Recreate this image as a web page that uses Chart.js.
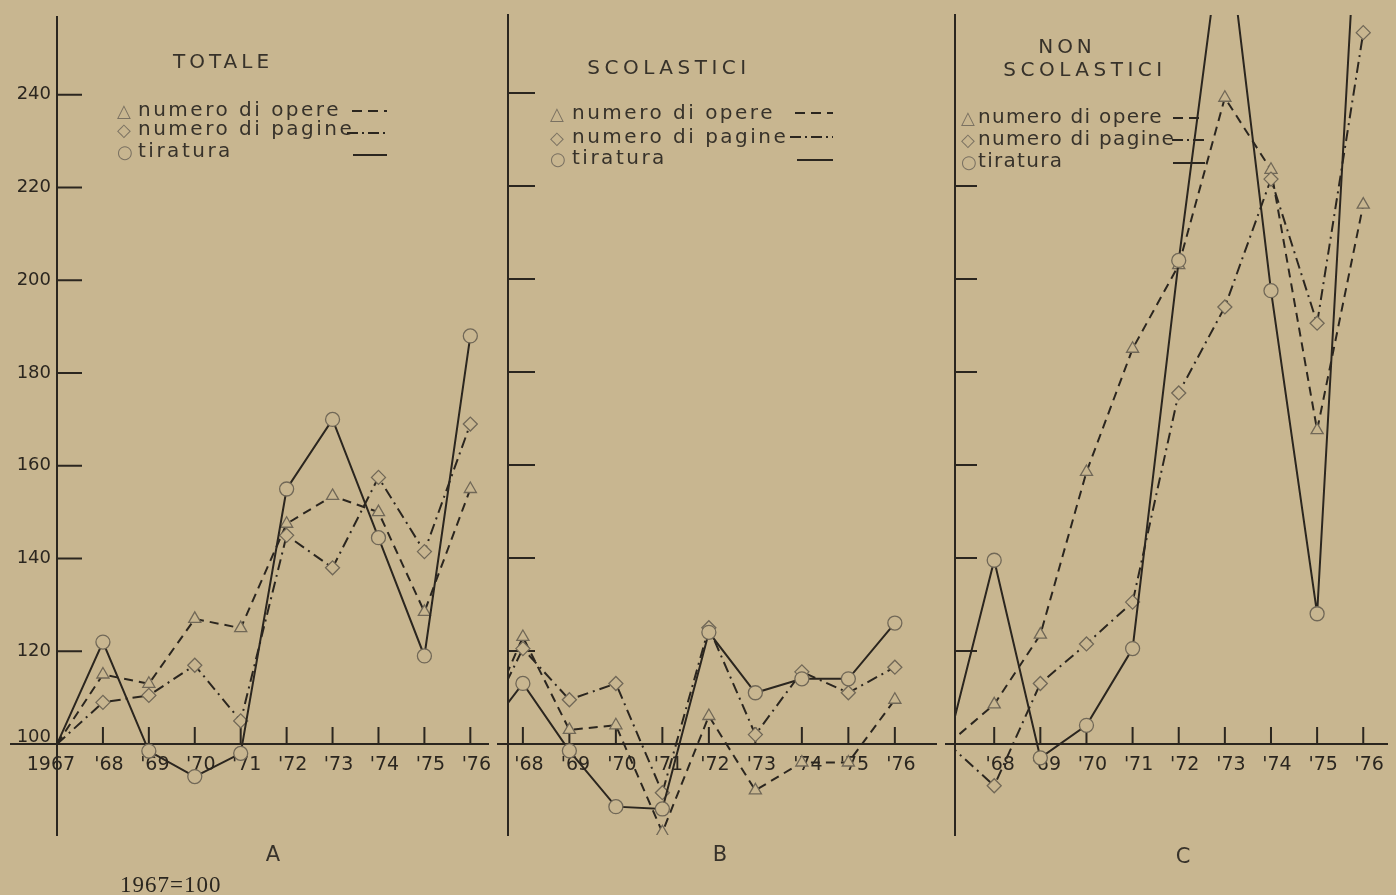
<!DOCTYPE html>
<html><head><meta charset="utf-8">
<script src="https://cdn.jsdelivr.net/npm/chart.js@4/dist/chart.umd.min.js"></script>
<style>
html,body{margin:0;padding:0;background:#c8b690;}
#page{position:relative;width:1396px;height:895px;background:#c8b690;overflow:hidden;font-family:'DejaVu Sans',sans-serif;}
canvas{position:absolute;top:0;}
.t{position:absolute;white-space:nowrap;line-height:1;}
svg.s{position:absolute;overflow:visible;}
</style></head><body>
<div id="page">
<canvas id="cA" width="497" height="895" style="left:0"></canvas>
<canvas id="cB" width="448" height="895" style="left:497px"></canvas>
<canvas id="cC" width="451" height="895" style="left:945px"></canvas>
</div>
<script>
// ---------- data ----------
const years = [1967, 1968, 1969, 1970, 1971, 1972, 1973, 1974, 1975, 1976];
const yearLabels = ['1967', "'68", "'69", "'70", "'71", "'72", "'73", "'74", "'75", "'76"];
const yTickValues = [120, 140, 160, 180, 200, 220, 240];
const seriesNames = ['numero di opere', 'numero di pagine', 'tiratura'];
const panelTitles = ['TOTALE', 'SCOLASTICI', 'NON\nSCOLASTICI'];
const panelLetters = ['A', 'B', 'C'];
const baseNote = '1967=100';

// A - totale
const opereTotale    = [100, 115, 113, 127, 125, 147.5, 153.5, 150, 128.5, 155];
const pagineTotale   = [100, 109, 110.5, 117, 105, 145, 138, 157.5, 141.5, 169];
const tiraturaTotale = [100, 122, 98.5, 93, 98, 155, 170, 144.5, 119, 188];
// B - scolastici
const opereScol    = [100, 123, 103, 104, 81, 106, 90, 96, 96, 109.5];
const pagineScol   = [100, 120.5, 109.5, 113, 89.5, 125, 102, 115.5, 111, 116.5];
const tiraturaScol = [100, 113, 98.5, 86.5, 86, 124, 111, 114, 114, 126];
// C - non scolastici
const opereNonScol    = [100, 108.5, 123.5, 158.5, 185, 203, 239, 223.5, 167.5, 216];
const pagineNonScol   = [100, 91, 113, 121.5, 130.5, 175.5, 194, 221.5, 190.5, 253];
const tiraturaNonScol = [100, 139.5, 97, 104, 120.5, 204, 280, 197.5, 128, 305];

// ---------- style ----------
const INK = '#2b261f', MARK = '#716857', BG = '#c8b690', TXT = '#37322a', SYM = '#7a7161';
Chart.defaults.font.family = "'DejaVu Sans', sans-serif";

function pts(vals) { return vals.map((v, i) => ({ x: years[i], y: v })); }

const decor = {
  id: 'decor',
  beforeDatasetsDraw(chart, args, o) {
    const { ctx, chartArea, scales: { x, y } } = chart;
    const base = y.getPixelForValue(100);
    ctx.save();
    ctx.strokeStyle = INK; ctx.lineWidth = 2; ctx.lineCap = 'butt';
    ctx.beginPath();
    ctx.moveTo(o.baseStart, base); ctx.lineTo(chartArea.left, base);
    o.xTicks.forEach(v => { const px = x.getPixelForValue(v); ctx.moveTo(px, base); ctx.lineTo(px, base - 17); });
    o.yTicks.forEach(v => { const py = y.getPixelForValue(v); ctx.moveTo(chartArea.left, py); ctx.lineTo(chartArea.left + o.yTickLen, py); });
    ctx.stroke();
    if (o.hundred) {
      ctx.fillStyle = INK; ctx.font = "18px 'DejaVu Sans'"; ctx.textAlign = 'right'; ctx.textBaseline = 'alphabetic';
      ctx.fillText('100', chartArea.left - 6, base - 2);
    }
    ctx.restore();
  }
};

function ds(label, vals, style, dash) {
  return {
    label, data: pts(vals), borderColor: INK, borderWidth: 2, borderDash: dash,
    pointStyle: style, pointRadius: c => (c.dataIndex === 0 ? 0 : 7),
    pointBorderColor: MARK, pointBackgroundColor: BG, pointBorderWidth: 1.3,
    pointHoverRadius: 7, fill: false, tension: 0
  };
}

function makeChart(id, c) {
  return new Chart(document.getElementById(id), {
    type: 'line',
    data: { datasets: [
      ds(seriesNames[2], c.tiratura, 'circle', []),
      ds(seriesNames[1], c.pagine, 'rectRot', [11, 5, 2, 5]),
      ds(seriesNames[0], c.opere, 'triangle', [9, 6])
    ] },
    options: {
      responsive: false, animation: false, devicePixelRatio: 1, events: [],
      layout: { padding: { top: 15, bottom: 60, left: 0, right: 0 } },
      plugins: { legend: { display: false }, tooltip: { enabled: false },
        decor: { baseStart: c.baseStart, xTicks: years.slice(1), yTicks: c.yTicks, yTickLen: c.yTickLen, hundred: c.yLabels } },
      scales: {
        x: { type: 'linear', position: { y: 100 }, min: c.xmin, max: c.xmax,
          afterBuildTicks: s => { s.ticks = years.filter(v => v >= c.xmin).map(v => ({ value: v })); },
          grid: { display: false, drawTicks: false },
          border: { display: true, color: INK, width: 2 },
          ticks: { autoSkip: false, maxRotation: 0, minRotation: 0, padding: 10, labelOffset: 6, color: INK, font: { size: 19 },
            callback: v => { const i = years.indexOf(v); return i === 0 ? yearLabels[0] + '    ' : (i > 0 ? yearLabels[i] : ''); } } },
        y: { type: 'linear', min: 80.4, max: 256.8,
          afterFit: s => { s.width = c.yw; },
          afterBuildTicks: s => { s.ticks = yTickValues.map(v => ({ value: v })); },
          grid: { display: false, drawTicks: false },
          border: { display: true, color: INK, width: 2 },
          ticks: { display: c.yLabels, padding: 6, color: INK, font: { size: 18 }, callback: v => String(v) } }
      }
    },
    plugins: [decor]
  });
}

makeChart('cA', { opere: opereTotale, pagine: pagineTotale, tiratura: tiraturaTotale,
  xmin: 1967, xmax: 1976.4, yw: 57, baseStart: 10, yTicks: yTickValues, yTickLen: 25, yLabels: true });
makeChart('cB', { opere: opereScol, pagine: pagineScol, tiratura: tiraturaScol,
  xmin: 1967.68, xmax: 1976.9, yw: 11, baseStart: 0, yTicks: yTickValues, yTickLen: 27, yLabels: false });
makeChart('cC', { opere: opereNonScol, pagine: pagineNonScol, tiratura: tiraturaNonScol,
  xmin: 1967.15, xmax: 1976.53, yw: 10, baseStart: 0, yTicks: yTickValues.slice(0, 6), yTickLen: 22, yLabels: false });

// ---------- overlay text ----------
const page = document.getElementById('page');
function addText(txt, x, baseline, o) {
  o = o || {};
  const size = o.size || 20, fam = o.family || "'DejaVu Sans', sans-serif";
  const asc = o.serif ? 0.8375 : 0.846;
  const d = document.createElement('div');
  d.className = 't'; d.textContent = txt;
  d.style.fontSize = size + 'px'; d.style.fontFamily = fam;
  d.style.letterSpacing = (o.ls || 0) + 'px';
  d.style.color = o.color || TXT;
  d.style.top = (baseline - asc * size) + 'px';
  d.style.left = x + 'px';
  if (o.center) d.style.transform = 'translateX(-50%)';
  page.appendChild(d);
}
function addSample(x1, x2, y, dash) {
  const ns = 'http://www.w3.org/2000/svg';
  const s = document.createElementNS(ns, 'svg');
  s.setAttribute('class', 's'); s.setAttribute('width', x2 - x1); s.setAttribute('height', 4);
  s.style.left = x1 + 'px'; s.style.top = (y - 2) + 'px';
  const l = document.createElementNS(ns, 'line');
  l.setAttribute('x1', 0); l.setAttribute('x2', x2 - x1); l.setAttribute('y1', 2); l.setAttribute('y2', 2);
  l.setAttribute('stroke', INK); l.setAttribute('stroke-width', 2);
  if (dash) l.setAttribute('stroke-dasharray', dash);
  s.appendChild(l); page.appendChild(s);
}
const symbols = ['\u25B3', '\u25C7', '\u25CB'];
const dashes = ['10 6', '11 4 2 4', null];
function addLegend(symX, txtX, baselines, ls, samples) {
  for (let i = 0; i < 3; i++) {
    addText(symbols[i], symX, baselines[i] + 1, { size: 18, color: SYM });
    addText(seriesNames[i], txtX, baselines[i], { size: 20, ls: ls });
    addSample(samples[i][0], samples[i][1], samples[i][2], dashes[i]);
  }
}

// titles
addText(panelTitles[0], 223, 68, { center: true, ls: 4 });
addText(panelTitles[1], 669, 74, { center: true, ls: 4.5 });
const cT = panelTitles[2].split('\n');
addText(cT[0], 1067, 53, { center: true, ls: 4 });
addText(cT[1], 1085, 76, { center: true, ls: 4.5 });

// legends
addLegend(117, 138, [116, 135, 157], 2.5, [[352, 387, 111], [347, 387, 133], [353, 387, 155]]);
addLegend(550, 572, [119, 143, 164], 2.5, [[795, 833, 113], [790, 833, 137], [797, 833, 160]]);
addLegend(961, 978, [123, 145, 167], 1.3, [[1173, 1203, 118], [1172, 1207, 140], [1173, 1205, 163]]);

// panel letters & base note
addText(panelLetters[0], 273, 862, { center: true, size: 21 });
addText(panelLetters[1], 720, 862, { center: true, size: 21 });
addText(panelLetters[2], 1183, 864, { center: true, size: 21 });
addText(baseNote, 120, 892, { size: 23, ls: 1, serif: true, family: "'Liberation Serif', serif", color: '#2a261f' });
</script>
</body></html>
